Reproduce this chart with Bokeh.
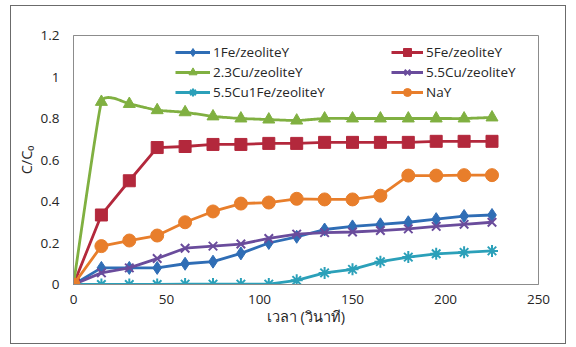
import numpy as np
from bokeh.plotting import figure
from bokeh.models import Range1d, FixedTicker, Legend, LegendItem
from bokeh.embed import file_html
from bokeh.resources import INLINE

# ---------------- data ----------------
time_s = [0, 15, 30, 45, 60, 75, 90, 105, 120, 135, 150, 165, 180, 195, 210, 225]

fe1 = [0.0, 0.08, 0.08, 0.08, 0.10, 0.11, 0.15, 0.20, 0.23, 0.265, 0.28, 0.29, 0.30, 0.315, 0.33, 0.335]
fe5 = [0.0, 0.335, 0.50, 0.66, 0.665, 0.675, 0.675, 0.68, 0.68, 0.685, 0.685, 0.685, 0.685, 0.69, 0.69, 0.69]
cu23 = [0.0, 0.88, 0.87, 0.84, 0.83, 0.81, 0.80, 0.795, 0.79, 0.80, 0.80, 0.80, 0.80, 0.80, 0.80, 0.805]
cu55 = [0.0, 0.056, 0.08, 0.125, 0.175, 0.185, 0.195, 0.222, 0.243, 0.25, 0.253, 0.26, 0.268, 0.28, 0.29, 0.30]
cu55fe1 = [0.0, 0.0, 0.0, 0.0, 0.002, 0.002, 0.002, 0.002, 0.02, 0.056, 0.073, 0.11, 0.132, 0.148, 0.155, 0.162]
nay = [0.0, 0.185, 0.212, 0.236, 0.30, 0.352, 0.39, 0.395, 0.413, 0.41, 0.41, 0.428, 0.525, 0.525, 0.527, 0.527]

series_names = ["1Fe/zeoliteY", "5Fe/zeoliteY", "2.3Cu/zeoliteY", "5.5Cu/zeoliteY", "5.5Cu1Fe/zeoliteY", "NaY"]
x_ticks = [0, 50, 100, 150, 200, 250]
y_ticks = [0, 0.2, 0.4, 0.6, 0.8, 1.0, 1.2]
x_title = "เวลา (วินาที)"
y_title = "C/C₀"

# ---------------- helpers ----------------
def smooth(xs, ys, k=0.06, n=24):
    xs = np.asarray(xs, float); ys = np.asarray(ys, float)
    px = [xs[0]]; py = [ys[0]]
    m = len(xs)
    for i in range(m - 1):
        p0 = i - 1 if i > 0 else i
        p3 = i + 2 if i + 2 < m else i + 1
        c1x = xs[i] + (xs[i + 1] - xs[p0]) * k
        c1y = ys[i] + (ys[i + 1] - ys[p0]) * k
        c2x = xs[i + 1] - (xs[p3] - xs[i]) * k
        c2y = ys[i + 1] - (ys[p3] - ys[i]) * k
        t = np.linspace(0, 1, n)[1:]
        bx = (1 - t) ** 3 * xs[i] + 3 * (1 - t) ** 2 * t * c1x + 3 * (1 - t) * t ** 2 * c2x + t ** 3 * xs[i + 1]
        by = (1 - t) ** 3 * ys[i] + 3 * (1 - t) ** 2 * t * c1y + 3 * (1 - t) * t ** 2 * c2y + t ** 3 * ys[i + 1]
        px.extend(bx); py.extend(by)
    return px, py

FONT = "Open Sans"
TXT = "#262626"

p = figure(width=556, height=339, output_backend="svg", toolbar_location=None,
           x_range=Range1d(0, 250), y_range=Range1d(0, 1.2),
           min_border_left=62, min_border_right=29, min_border_top=29, min_border_bottom=61,
           background_fill_color="white", border_fill_color="white")
p.styles = {"border": "1.5px solid #6b6b6b", "margin-left": "10px", "margin-top": "5px"}

p.outline_line_color = "#8c8c8c"
p.outline_line_width = 1
p.xgrid.visible = False
p.ygrid.visible = False

for ax in (p.xaxis[0], p.yaxis[0]):
    ax.major_tick_line_color = None
    ax.minor_tick_line_color = None
    ax.major_tick_out = 0
    ax.major_tick_in = 0
    ax.axis_line_color = "#8c8c8c"
    ax.major_label_text_font = FONT
    ax.major_label_text_font_size = "13.5px"
    ax.major_label_text_color = TXT
    ax.axis_label_text_font = FONT
    ax.axis_label_text_font_size = "14.5px"
    ax.axis_label_text_font_style = "normal"
    ax.axis_label_text_color = TXT

p.xaxis.ticker = FixedTicker(ticks=x_ticks)
p.yaxis.ticker = FixedTicker(ticks=y_ticks)
p.yaxis.major_label_overrides = {0: "0", 0.2: "0.2", 0.4: "0.4", 0.6: "0.6", 0.8: "0.8", 1.0: "1", 1.2: "1.2"}
p.xaxis.major_label_standoff = 10
p.yaxis.major_label_standoff = 14
p.xaxis.axis_label = x_title
p.yaxis.axis_label = y_title
p.xaxis.axis_label_standoff = 0
p.yaxis.axis_label_standoff = 2

colors = ["#2f6db5", "#b3283c", "#80b041", "#6a4c9c", "#2ba0b9", "#e87e2b"]
markers = ["diamond", "square", "triangle", "x", "asterisk", "circle"]
sizes = [13, 12, 12, 12, 12, 13]
data = [fe1, fe5, cu23, cu55, cu55fe1, nay]

items = []
for i, (name, ys) in enumerate(zip(series_names, data)):
    c = colors[i]
    if i == 2:
        lx, ly = smooth(time_s, ys)
    else:
        lx, ly = time_s, ys
    r_line = p.line(lx, ly, line_color=c, line_width=2.8)
    if markers[i] in ("x", "asterisk"):
        r_mark = p.scatter(time_s, ys, marker=markers[i], size=sizes[i], line_color=c, line_width=2)
    else:
        r_mark = p.scatter(time_s, ys, marker=markers[i], size=sizes[i], fill_color=c, line_color=c)
    items.append(LegendItem(label=name, renderers=[r_line, r_mark]))

def make_legend(its, loc, gw):
    lg = Legend(items=its, location=loc, orientation="vertical",
                padding=0, margin=0, spacing=0, glyph_width=gw, glyph_height=20,
                label_height=20, label_standoff=3,
                label_text_font=FONT, label_text_font_size="13.5px", label_text_color=TXT,
                border_line_color=None, background_fill_alpha=0)
    return lg

p.add_layout(make_legend([items[0], items[2], items[4]], (102, 182), 35))
p.add_layout(make_legend([items[1], items[3], items[5]], (318, 182), 32))

open("out.html", "w").write(file_html(p, INLINE))
